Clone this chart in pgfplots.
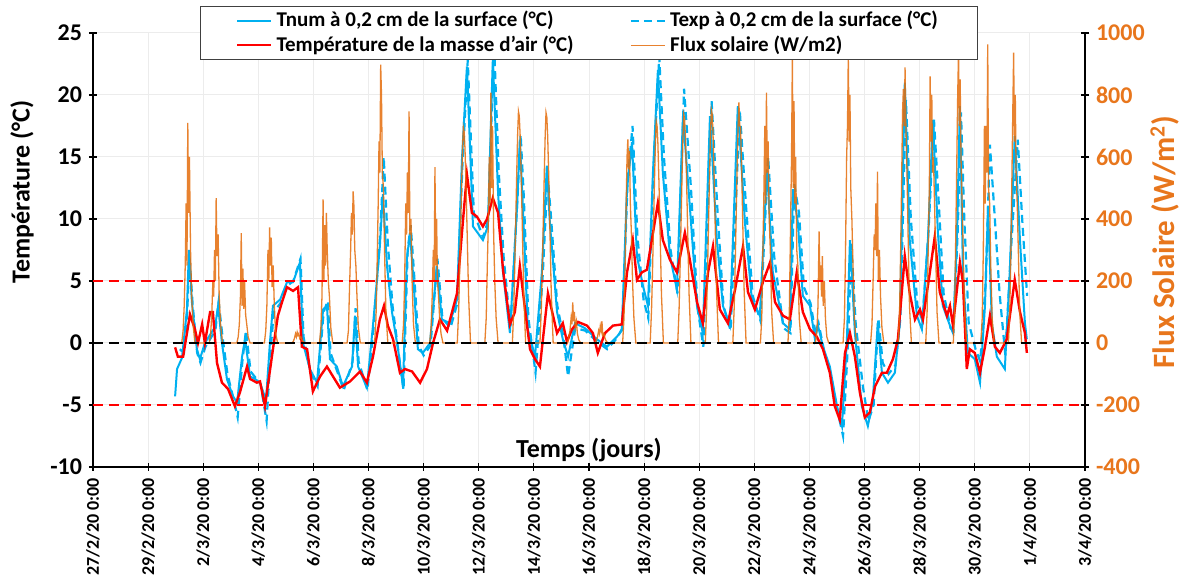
\documentclass[border=0pt]{standalone}
\usepackage{fontspec}
\setmainfont{Carlito}
\usepackage{pgfplots}
\pgfplotsset{compat=1.18}
\definecolor{tblue}{RGB}{0,176,240}
\definecolor{tred}{RGB}{255,0,0}
\definecolor{fluxc}{RGB}{228,108,10}
\definecolor{orlab}{RGB}{232,118,28}
\definecolor{gridc}{RGB}{236,236,236}
\begin{document}
\begin{tikzpicture}
\pgfplotsset{
  common/.style={
    width=496pt, height=217pt, scale only axis,
    xmin=0, xmax=36,
    /pgf/number format/assume math mode=true,
    /pgf/number format/1000 sep={},
    scaled y ticks=false,
    tick align=center, major tick length=4pt,
    major tick style={black, line width=0.6pt},
    axis line style={line width=1pt, black, -},
    yticklabel style={font=\fontsize{12}{14}\selectfont\bfseries},
  }
}
\begin{axis}[common, name=main,
  ymin=-10, ymax=25, ytick={-10,-5,...,25},
  axis x line*=bottom, axis y line*=left,
  xtick={0,2,...,36},
  xticklabels={27/2/20 0:00,29/2/20 0:00,2/3/20 0:00,4/3/20 0:00,6/3/20 0:00,8/3/20 0:00,10/3/20 0:00,12/3/20 0:00,14/3/20 0:00,16/3/20 0:00,18/3/20 0:00,20/3/20 0:00,22/3/20 0:00,24/3/20 0:00,26/3/20 0:00,28/3/20 0:00,30/3/20 0:00,1/4/20 0:00,3/4/20 0:00},
  xticklabel style={rotate=90, anchor=east, font=\fontsize{9}{10}\selectfont\bfseries},
  grid=major, major grid style={gridc, line width=0.5pt},
]
% Tnum
\addplot[tblue, line width=1pt] coordinates {
(2.98,-4.3)(3.05,-2.1)(3.23,-1.2)(3.41,2.7)(3.48,7.5)(3.59,3.3)(3.77,-0.5)(3.88,-1.3)(4.06,0)(4.43,1.3)(4.54,3.0)(4.68,0)(4.86,-2.9)(5.08,-4.3)(5.23,-4.8)(5.41,-1.1)(5.52,0.3)(5.70,-2.7)(5.88,-2.9)(6.06,-3.2)(6.28,-4.6)(6.42,0)(6.53,3.0)(6.79,3.5)(7.04,4.9)(7.26,4.9)(7.51,6.5)(7.62,0)(7.87,-2.1)(8.13,-3.2)(8.35,2.7)(8.49,3.0)(8.60,-1.3)(8.85,-1.9)(9.07,-3.5)(9.40,-1.9)(9.51,2.2)(9.62,-1.9)(9.94,-3.6)(10.16,1.4)(10.41,7.8)(10.52,12.0)(10.67,6.2)(10.85,2.5)(11.07,-0.5)(11.25,-3.5)(11.39,6.7)(11.50,8.9)(11.61,5.7)(11.79,-0.5)(11.97,-0.8)(12.23,0)(12.48,6.2)(12.66,1.9)(12.95,1.6)(13.21,3.5)(13.39,14.8)(13.57,22.3)(13.79,9.4)(14.15,8.3)(14.33,9.4)(14.51,22.9)(14.70,12.1)(14.88,5.7)(15.13,0.8)(15.39,11.0)(15.49,16.4)(15.60,11.0)(15.78,1.1)(16.04,-1.1)(16.29,5.7)(16.47,14.3)(16.58,9.7)(16.84,2.5)(17.05,0.3)(17.24,-1.1)(17.49,1.6)(17.85,1.2)(18.29,0.3)(18.65,-0.3)(19.01,0.5)(19.19,1.0)(19.38,12.4)(19.56,16.2)(19.74,7.0)(19.96,4.6)(20.14,3.0)(20.32,13.7)(20.50,22.0)(20.68,13.7)(20.94,7.0)(21.19,4.3)(21.41,18.3)(21.66,11.0)(21.92,3.0)(22.13,0.8)(22.39,18.3)(22.64,8.3)(22.86,3.0)(23.11,1.4)(23.40,19.1)(23.66,9.7)(23.91,3.5)(24.20,2.2)(24.46,14.0)(24.67,5.7)(25.04,1.6)(25.29,1.1)(25.40,12.4)(25.58,9.7)(25.76,3.8)(26.02,3.0)(26.20,0.3)(26.31,1.4)(26.49,-0.3)(26.74,-1.9)(27.00,-5.1)(27.18,-6.7)(27.36,0.3)(27.47,8.3)(27.65,0.8)(27.90,-5.1)(28.12,-6.7)(28.30,-4.6)(28.48,1.6)(28.63,-2.4)(28.85,-3.2)(29.10,-2.4)(29.28,1.6)(29.46,21.0)(29.64,8.3)(29.90,2.2)(30.08,1.1)(30.30,8.3)(30.48,18.0)(30.66,9.0)(30.84,3.0)(31.10,1.4)(31.21,0.8)(31.35,8.3)(31.46,19.1)(31.57,5.7)(31.75,-0.8)(32.00,-1.3)(32.19,-3.2)(32.37,3.0)(32.48,11.0)(32.62,1.6)(32.80,-1.1)(33.09,-2.1)(33.27,5.7)(33.45,16.7)(33.64,8.3)(33.82,1.6)(33.89,0.3)
};
% Texp
\addplot[tblue, line width=1.1pt, dash pattern=on 4pt off 2.5pt] coordinates {
(3.15,-0.5)(3.30,-0.8)(3.42,2.5)(3.50,7.0)(3.62,3.0)(3.78,-0.8)(3.90,-1.6)(4.08,-0.3)(4.44,1.0)(4.56,3.3)(4.70,0.5)(4.88,-2.5)(5.10,-4.5)(5.25,-6.0)(5.42,-1.5)(5.55,1.0)(5.72,-2.3)(5.90,-2.8)(6.08,-3.3)(6.30,-6.3)(6.45,-0.5)(6.56,2.5)(6.80,3.2)(7.05,4.6)(7.27,5.0)(7.53,6.8)(7.64,0.5)(7.90,-2.4)(8.15,-3.5)(8.37,2.5)(8.52,3.4)(8.62,-0.8)(8.88,-2.4)(9.10,-3.8)(9.42,-1.5)(9.53,2.8)(9.64,-1.5)(9.96,-3.8)(10.18,1.2)(10.43,9.0)(10.55,15.0)(10.70,8.0)(10.87,3.0)(11.09,-0.8)(11.27,-3.8)(11.42,7.5)(11.53,9.5)(11.64,6.0)(11.82,-0.2)(12.00,-1.0)(12.25,-0.2)(12.50,6.8)(12.68,2.0)(12.97,1.2)(13.22,3.2)(13.40,14.0)(13.60,22.8)(13.82,10.5)(14.16,8.5)(14.35,10.0)(14.55,24.5)(14.72,14.0)(14.90,7.0)(15.15,1.2)(15.40,11.5)(15.52,16.8)(15.63,12.0)(15.80,2.0)(16.06,-2.4)(16.31,5.0)(16.50,13.5)(16.61,10.5)(16.85,3.0)(17.07,0.5)(17.24,-2.7)(17.50,1.2)(17.86,1.0)(18.30,0.1)(18.66,-0.5)(19.02,0.4)(19.21,1.2)(19.40,13.0)(19.58,17.5)(19.76,8.5)(19.98,3.5)(20.15,2.0)(20.34,14.0)(20.55,23.1)(20.72,15.0)(20.96,7.5)(21.21,4.0)(21.45,20.5)(21.70,12.5)(21.94,2.8)(22.15,-0.3)(22.45,19.5)(22.68,10.0)(22.88,3.0)(23.14,1.0)(23.47,18.8)(23.70,11.0)(23.94,3.8)(24.22,1.8)(24.50,15.0)(24.72,7.0)(25.06,1.2)(25.31,0.8)(25.45,12.8)(25.62,10.5)(25.80,4.5)(26.04,3.2)(26.22,0.8)(26.33,1.6)(26.52,-0.5)(26.77,-2.5)(27.02,-5.5)(27.22,-7.5)(27.40,0.0)(27.52,8.0)(27.68,1.5)(27.94,-3.5)(28.14,-6.3)(28.33,-5.0)(28.50,2.0)(28.66,-1.6)(28.87,-2.5)(29.12,-1.8)(29.30,2.0)(29.50,19.6)(29.68,10.0)(29.92,3.0)(30.10,1.8)(30.32,9.0)(30.52,18.0)(30.70,11.0)(30.87,4.0)(31.12,1.2)(31.23,1.0)(31.38,9.0)(31.50,18.6)(31.62,10.0)(31.78,1.6)(32.03,-0.5)(32.20,-1.5)(32.40,5.0)(32.55,16.0)(32.70,11.0)(32.90,4.0)(33.11,-1.0)(33.30,7.0)(33.56,16.4)(33.72,10.0)(33.90,3.8)
};
% Tair
\addplot[tred, line width=1.2pt] coordinates {
(2.98,-0.35)(3.08,-1.1)(3.27,-1.1)(3.52,2.3)(3.70,1.1)(3.81,0)(3.96,1.5)(4.06,0)(4.25,2.5)(4.35,2.5)(4.50,-1.6)(4.68,-3.2)(4.90,-3.7)(5.15,-5.1)(5.33,-4.0)(5.59,-1.9)(5.70,-2.9)(5.95,-3.2)(6.06,-3.1)(6.24,-5.1)(6.53,-0.5)(6.71,2.2)(6.86,3.3)(7.04,4.5)(7.26,4.2)(7.44,4.5)(7.58,-0.3)(7.77,-0.5)(7.98,-3.9)(8.24,-2.7)(8.49,-1.9)(8.71,-2.7)(8.96,-3.6)(9.33,-3.1)(9.69,-2.3)(9.94,-3.2)(10.16,-1.1)(10.41,1.9)(10.56,3.0)(10.70,1.4)(10.89,0.3)(11.14,-2.4)(11.32,-2.1)(11.58,-2.3)(11.87,-3.2)(12.12,-2.1)(12.34,0)(12.59,1.9)(12.85,1.0)(13.03,2.5)(13.21,4.0)(13.39,8.9)(13.57,13.6)(13.75,10.5)(13.93,10.2)(14.15,9.4)(14.30,10.0)(14.51,11.7)(14.70,10.5)(14.88,5.9)(15.13,1.5)(15.31,2.5)(15.49,6.2)(15.68,2.7)(15.86,-0.5)(16.04,-1.3)(16.22,-1.9)(16.51,4.0)(16.84,0.8)(17.05,1.6)(17.20,0.1)(17.38,1.1)(17.60,1.7)(17.93,1.4)(18.14,0.8)(18.32,-0.8)(18.58,0.8)(18.87,1.4)(19.19,1.5)(19.38,5.7)(19.59,8.3)(19.74,5.1)(19.92,5.7)(20.10,5.9)(20.28,8.3)(20.50,11.3)(20.68,8.3)(20.94,6.7)(21.19,5.7)(21.48,8.9)(21.66,6.7)(21.92,3.3)(22.13,1.6)(22.32,5.7)(22.50,7.8)(22.75,2.7)(23.04,1.6)(23.30,4.3)(23.59,7.8)(23.77,4.1)(24.02,2.7)(24.31,4.9)(24.57,6.5)(24.75,3.3)(25.04,2.2)(25.29,1.9)(25.54,5.7)(25.76,2.5)(26.02,1.1)(26.27,0.5)(26.49,-0.5)(26.74,-2.4)(26.92,-5.1)(27.10,-6.2)(27.29,-0.8)(27.47,0.8)(27.65,-1.1)(27.83,-4.0)(28.01,-6.0)(28.19,-5.6)(28.38,-3.5)(28.63,-2.4)(28.81,-2.4)(29.03,-1.3)(29.21,0.3)(29.46,7.0)(29.64,4.0)(29.83,1.9)(30.01,2.7)(30.12,1.9)(30.37,5.7)(30.55,8.6)(30.73,4.1)(30.99,2.2)(31.10,3.0)(31.21,1.4)(31.46,6.5)(31.57,4.9)(31.71,-2.1)(31.82,-0.5)(32.00,-0.8)(32.19,-2.4)(32.37,-0.3)(32.55,2.2)(32.73,-0.3)(32.91,-0.8)(33.16,0.3)(33.45,5.1)(33.64,2.5)(33.82,0.8)(33.89,-0.8)
};
\node[font=\fontsize{13}{15}\selectfont\bfseries] at (rel axis cs:0.5,0.04) {Temps (jours)};
\end{axis}
\begin{axis}[common,
  ymin=-400, ymax=1000, ytick={-400,-200,...,1000},
  axis y line*=right, axis x line=none,
  yticklabel style={text=orlab},
  legend columns=2,
  legend cell align=left,
  legend style={at={(0.5,1)}, anchor=center, draw=black!75, line width=0.5pt, fill=white,
    font=\fontsize{10.5}{11}\selectfont\bfseries, inner xsep=18pt, inner ysep=0.5pt, row sep=-1pt,
    /tikz/every even column/.append style={column sep=26pt}},
]
\addlegendimage{tblue, line width=1pt}
\addlegendentry{Tnum à 0,2 cm de la surface (°C)}
\addlegendimage{tblue, line width=1.1pt, dash pattern=on 4pt off 2.5pt}
\addlegendentry{Texp à 0,2 cm de la surface (°C)}
\addlegendimage{tred, line width=1.2pt}
\addlegendentry{Température de la masse d'air (°C)}
\addplot[fluxc, line width=0.65pt, opacity=0.85] coordinates {
(2.95,0)
(3.22,0)(3.27,40)(3.31,120)(3.35,260)(3.38,450)(3.41,250)(3.44,710)(3.47,420)(3.50,600)(3.54,300)(3.58,150)(3.63,60)(3.70,0)
(4.22,0)(4.27,30)(4.31,90)(4.35,200)(4.38,150)(4.41,300)(4.44,200)(4.47,467)(4.50,280)(4.54,350)(4.58,150)(4.63,60)(4.70,0)
(5.22,0)(5.27,20)(5.31,60)(5.35,150)(5.38,354)(5.41,120)(5.44,240)(5.47,110)(5.50,200)(5.54,90)(5.58,60)(5.63,20)(5.70,0)
(6.22,0)(6.27,40)(6.31,120)(6.35,300)(6.38,200)(6.41,373)(6.44,250)(6.47,340)(6.50,180)(6.54,250)(6.58,120)(6.63,30)(6.70,0)
(7.22,0)(7.27,5)(7.31,15)(7.35,30)(7.38,20)(7.41,35)(7.44,25)(7.47,30)(7.50,15)(7.54,20)(7.58,10)(7.63,5)(7.70,0)
(8.22,0)(8.27,50)(8.31,150)(8.35,463)(8.38,200)(8.41,380)(8.44,250)(8.47,420)(8.50,300)(8.54,200)(8.58,150)(8.63,50)(8.70,0)
(9.22,0)(9.27,40)(9.31,180)(9.35,300)(9.38,420)(9.41,350)(9.44,489)(9.47,440)(9.50,300)(9.54,250)(9.58,150)(9.63,50)(9.70,0)
(10.22,0)(10.27,80)(10.31,250)(10.35,450)(10.38,650)(10.41,550)(10.44,898)(10.47,800)(10.50,550)(10.54,500)(10.58,300)(10.63,100)(10.70,0)
(11.22,0)(11.27,60)(11.31,200)(11.35,450)(11.38,350)(11.41,550)(11.44,420)(11.47,747)(11.50,350)(11.54,400)(11.58,200)(11.63,60)(11.70,0)
(12.22,0)(12.27,50)(12.31,150)(12.35,300)(12.38,200)(12.41,567)(12.44,250)(12.47,400)(12.50,200)(12.54,150)(12.58,80)(12.63,30)(12.70,0)
(13.22,0)(13.27,104)(13.31,243)(13.35,403)(13.38,521)(13.41,626)(13.44,695)(13.47,681)(13.50,626)(13.54,500)(13.58,348)(13.63,153)(13.70,0)
(14.22,0)(14.27,80)(14.31,250)(14.35,400)(14.38,600)(14.41,450)(14.44,808)(14.47,500)(14.50,700)(14.54,350)(14.58,200)(14.63,80)(14.70,0)
(15.22,0)(15.27,112)(15.31,261)(15.35,433)(15.38,560)(15.41,672)(15.44,747)(15.47,732)(15.50,672)(15.54,538)(15.58,374)(15.63,164)(15.70,0)
(16.22,0)(16.27,111)(16.31,260)(16.35,431)(16.38,557)(16.41,669)(16.44,743)(16.47,728)(16.50,669)(16.54,535)(16.58,372)(16.63,163)(16.70,0)
(17.22,0)(17.27,20)(17.31,40)(17.35,80)(17.38,60)(17.41,131)(17.44,70)(17.47,100)(17.50,50)(17.54,70)(17.58,30)(17.63,10)(17.70,0)
(18.22,0)(18.27,10)(18.31,20)(18.35,40)(18.38,30)(18.41,55)(18.44,40)(18.47,70)(18.50,25)(18.54,30)(18.58,15)(18.63,5)(18.70,0)
(19.22,0)(19.27,80)(19.31,250)(19.35,450)(19.38,600)(19.41,657)(19.44,560)(19.47,620)(19.50,450)(19.54,350)(19.58,200)(19.63,80)(19.70,0)
(20.22,0)(20.27,107)(20.31,250)(20.35,415)(20.38,536)(20.41,644)(20.44,715)(20.47,701)(20.50,644)(20.54,515)(20.58,358)(20.63,157)(20.70,0)
(21.22,0)(21.27,111)(21.31,258)(21.35,427)(21.38,553)(21.41,663)(21.44,737)(21.47,722)(21.50,663)(21.54,531)(21.58,369)(21.63,162)(21.70,0)
(22.22,0)(22.27,113)(22.31,264)(22.35,437)(22.38,565)(22.41,678)(22.44,753)(22.47,738)(22.50,678)(22.54,542)(22.58,377)(22.63,166)(22.70,0)
(23.22,0)(23.27,116)(23.31,272)(23.35,450)(23.38,582)(23.41,698)(23.44,776)(23.47,700)(23.50,698)(23.54,559)(23.58,388)(23.63,171)(23.70,0)
(24.22,0)(24.27,80)(24.31,300)(24.35,500)(24.38,700)(24.41,450)(24.44,808)(24.47,550)(24.50,650)(24.54,400)(24.58,300)(24.63,100)(24.70,0)
(25.22,0)(25.27,100)(25.31,350)(25.35,600)(25.38,925)(25.41,500)(25.44,780)(25.47,450)(25.50,600)(25.54,300)(25.58,250)(25.63,80)(25.70,0)
(26.22,0)(26.27,40)(26.31,120)(26.35,360)(26.38,200)(26.41,250)(26.44,150)(26.47,280)(26.50,120)(26.54,200)(26.58,80)(26.63,20)(26.70,0)
(27.22,0)(27.27,80)(27.31,300)(27.35,600)(27.38,700)(27.41,925)(27.44,650)(27.47,800)(27.50,500)(27.54,400)(27.58,250)(27.63,80)(27.70,0)
(28.22,0)(28.27,60)(28.31,200)(28.35,350)(28.38,300)(28.41,450)(28.44,280)(28.47,553)(28.50,200)(28.54,300)(28.58,150)(28.63,50)(28.70,0)
(29.22,0)(29.27,100)(29.31,300)(29.35,550)(29.38,750)(29.41,820)(29.44,700)(29.47,889)(29.50,700)(29.54,550)(29.58,350)(29.63,120)(29.70,0)
(30.22,0)(30.27,100)(30.31,300)(30.35,500)(30.38,860)(30.41,650)(30.44,800)(30.47,550)(30.50,600)(30.54,450)(30.58,300)(30.63,100)(30.70,0)
(31.22,0)(31.27,100)(31.31,350)(31.35,600)(31.38,800)(31.41,937)(31.44,700)(31.47,850)(31.50,600)(31.54,450)(31.58,300)(31.63,100)(31.70,0)
(32.22,0)(32.27,80)(32.31,300)(32.35,700)(32.38,450)(32.41,700)(32.44,550)(32.47,963)(32.50,500)(32.54,450)(32.58,250)(32.63,80)(32.70,0)
(33.22,0)(33.27,100)(33.31,300)(33.35,550)(33.38,750)(33.41,937)(33.44,650)(33.47,800)(33.50,550)(33.54,450)(33.58,300)(33.63,100)(33.70,0)
(33.90,0)
};
\addlegendentry{Flux solaire (W/m2)}
\addplot[tred, line width=1pt, dash pattern=on 5pt off 3pt, forget plot] coordinates {(0,200)(36,200)};
\addplot[tred, line width=1pt, dash pattern=on 5pt off 3pt, forget plot] coordinates {(0,-200)(36,-200)};
\addplot[black, line width=1pt, dash pattern=on 5pt off 3pt, forget plot] coordinates {(0,0)(36,0)};
\end{axis}
\node[font=\fontsize{13}{15}\selectfont\bfseries, rotate=90] at ([xshift=-35.5pt,yshift=29pt]main.west) {Température (°C)};
\node[font=\fontsize{15.5}{17}\selectfont\bfseries, text=orlab, rotate=90] at ([xshift=40pt,yshift=4pt]main.east) {Flux Solaire (W/m\textsuperscript{2})};
\pgfresetboundingbox
\path[use as bounding box] ([xshift=-46.5pt,yshift=-55pt]main.south west) rectangle ([xshift=47.5pt,yshift=16.5pt]main.north east);
\end{tikzpicture}
\end{document}
